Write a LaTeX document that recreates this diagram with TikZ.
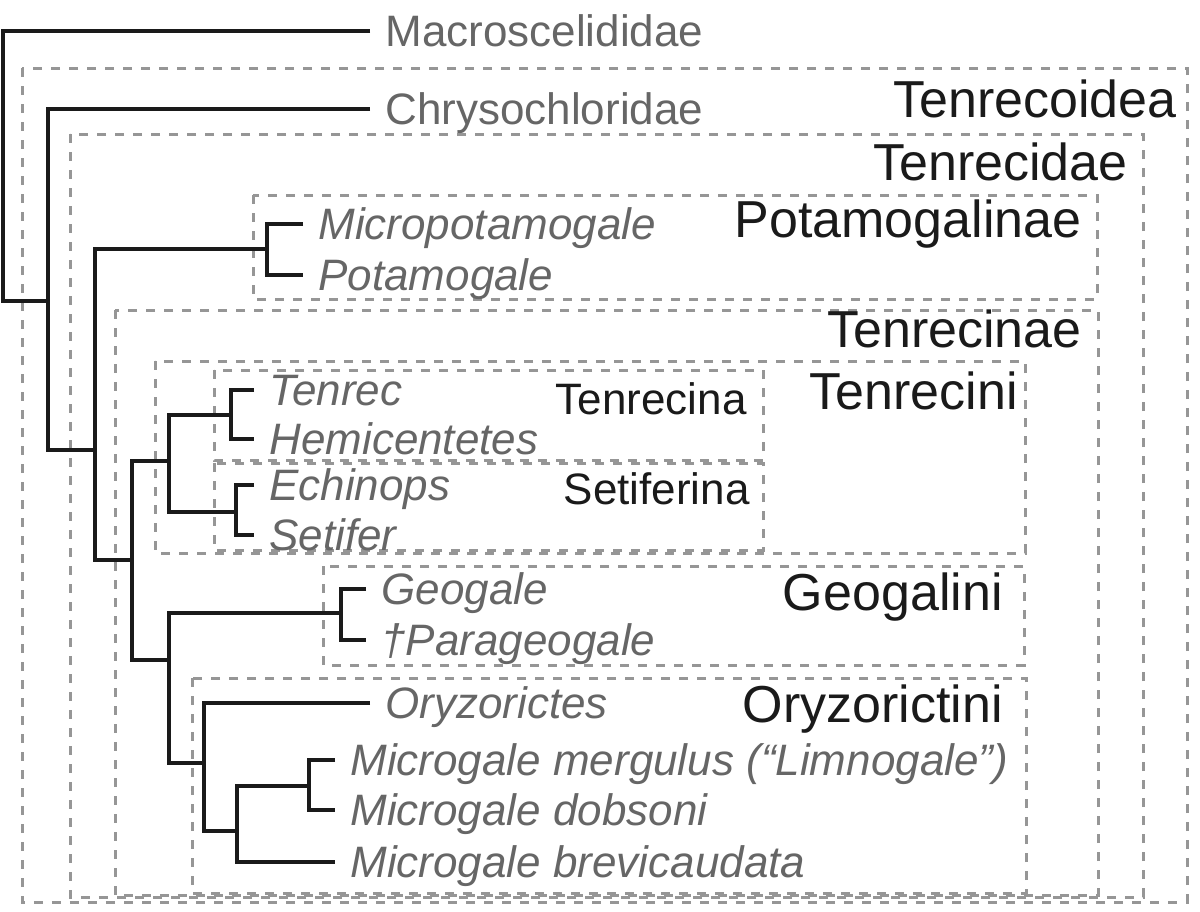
\documentclass[tikz,border=0pt]{standalone}
\usepackage{fontspec}
\setmainfont{Liberation Sans}

\definecolor{leafgray}{RGB}{102,102,102}
\definecolor{boxgray}{RGB}{150,150,150}
\definecolor{inkblack}{RGB}{26,26,26}

\tikzset{
  taxon/.style={anchor=west, text=leafgray, font=\fontsize{22}{26}\selectfont,
    text height=15.75pt, text depth=0pt, inner xsep=7.5pt, inner ysep=0pt},
  genus/.style={taxon, font=\fontsize{22}{26}\selectfont\itshape},
  clade/.style={anchor=east, text=inkblack, inner sep=0pt, text height=18.6pt,
    text depth=0pt, font=\fontsize{26}{30}\selectfont},
  subclade/.style={clade, text height=15.75pt, font=\fontsize{22}{26}\selectfont},
  branch/.style={draw=inkblack, line width=1.6pt},
  box/.style={draw=boxgray, line width=1.5pt, dash pattern=on 4.3pt off 4.7pt},
}

\begin{document}
\begin{tikzpicture}[x=0.5pt,y=-0.5pt]
\useasboundingbox (0,0) rectangle (1200,911);

% clade boxes
\draw[box] (22,68) rectangle (1187,902);
\draw[box] (70,134) rectangle (1143,897);
\draw[box] (253,195) rectangle (1097,299);
\draw[box] (115,310) rectangle (1098,895);
\draw[box] (155,361) rectangle (1025,553);
\draw[box] (214,370) rectangle (763,460);
\draw[box] (214,463) rectangle (763,550);
\draw[box] (323,566) rectangle (1024,665);
\draw[box] (192,678) rectangle (1026,893);

% clade names
\node[clade] (lTenrecoidea) at (1177,99) {Tenrecoidea};
\node[clade] (lTenrecidae) at (1128,162) {Tenrecidae};
\node[clade] (lPotamogalinae) at (1082,219) {Potamogalinae};
\node[clade] (lTenrecinae) at (1082,329) {Tenrecinae};
\node[clade] (lTenrecini) at (1018,391) {Tenrecini};
\node[subclade] (lTenrecina) at (747,399) {Tenrecina};
\node[subclade] (lSetiferina) at (750,489) {Setiferina};
\node[clade] (lGeogalini) at (1003,592) {Geogalini};
\node[clade] (lOryzorictini) at (1003,704) {Oryzorictini};

% tips
\node[taxon] (macro) at (370,31) {Macroscelididae};
\node[taxon] (chryso) at (370,109) {Chrysochloridae};
\node[genus] (micropot) at (303,224) {Micropotamogale};
\node[genus] (potamog) at (303,275) {Potamogale};
\node[genus] (tenrec) at (254,390) {Tenrec};
\node[genus] (hemic) at (254,439) {Hemicentetes};
\node[genus] (echin) at (254,485) {Echinops};
\node[genus] (setif) at (254,535) {Setifer};
\node[genus] (geogale) at (366,589) {Geogale};
\node[genus] (parageo) at (366,640) {\textdagger Parageogale};
\node[genus] (oryzo) at (370,703) {Oryzorictes};
\node[genus] (merg) at (335,760) {Microgale mergulus (“Limnogale”)};
\node[genus] (dobs) at (335,810) {Microgale dobsoni};
\node[genus] (brev) at (335,862) {Microgale brevicaudata};

% internal nodes
\coordinate (nRoot) at (3,301);
\coordinate (nTenrecoidea) at (48,301);
\coordinate (nTenrecidae) at (95,450);
\coordinate (nPotamogalinae) at (267,249);
\coordinate (nTenrecinae) at (132,560);
\coordinate (nTenrecini) at (169,461);
\coordinate (nTenrecina) at (231,415);
\coordinate (nSetiferina) at (236,512);
\coordinate (nGeoOry) at (169,660);
\coordinate (nGeogalini) at (341,613);
\coordinate (nOryzorictini) at (204,763);
\coordinate (nMicrogale) at (237,831);
\coordinate (nMergDob) at (309,786);

% branches
\draw[branch] (macro.west) -| (nRoot) -- (nTenrecoidea);
\draw[branch] (chryso.west) -| (nTenrecoidea) |- (nTenrecidae);
\draw[branch] (nPotamogalinae) -| (nTenrecidae) |- (nTenrecinae);
\draw[branch] (micropot.west) -| (nPotamogalinae) |- (potamog.west);
\draw[branch] (nTenrecini) -| (nTenrecinae) |- (nGeoOry);
\draw[branch] (nTenrecina) -| (nTenrecini) |- (nSetiferina);
\draw[branch] (tenrec.west) -| (nTenrecina) |- (hemic.west);
\draw[branch] (echin.west) -| (nSetiferina) |- (setif.west);
\draw[branch] (nGeogalini) -| (nGeoOry) |- (nOryzorictini);
\draw[branch] (geogale.west) -| (nGeogalini) |- (parageo.west);
\draw[branch] (oryzo.west) -| (nOryzorictini) |- (nMicrogale);
\draw[branch] (nMergDob) -| (nMicrogale) |- (brev.west);
\draw[branch] (merg.west) -| (nMergDob) |- (dobs.west);
\end{tikzpicture}
\end{document}
